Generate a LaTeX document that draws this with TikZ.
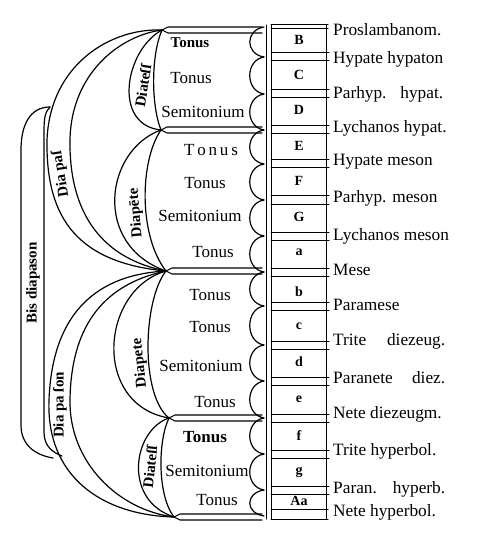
\documentclass[tikz,border=0pt]{standalone}
\usepackage{fontspec}
\setmainfont{Liberation Serif}
\usetikzlibrary{calc}
\tikzset{
  stepname/.style={font=\fontsize{17}{17}\selectfont, inner sep=0pt},
  pitchname/.style={font=\fontsize{17.3}{17.3}\selectfont, anchor=west, inner sep=0pt},
  keyletter/.style={font=\bfseries\fontsize{14}{14}\selectfont, inner sep=0pt},
  spanname/.style={font=\bfseries\fontsize{15}{15}\selectfont, inner sep=0pt},
  lens/.style={line width=1.2pt},
  barline/.style={line width=1.1pt},
  colline/.style={line width=1pt}
}
\begin{document}
\begin{tikzpicture}[x=1pt, y=-1pt, line join=round, line cap=round]
  \useasboundingbox (0,0) rectangle (477,537);

  % points where the spans meet
  \coordinate (c0) at (162,30);
  \coordinate (c1) at (161,130);
  \coordinate (c2) at (166,271);
  \coordinate (c3) at (169,418);
  \coordinate (c4) at (174,517);

  % double bars at the tetrachord limits
  \foreach \c/\y in {c0/30, c1/130, c2/271, c3/418, c4/517}
    \draw[barline] (262,\y-3) -- ($(\c)+(6,-3)$) -- (\c) -- ($(\c)+(6,3)$) -- (262,\y+3);

  % scallops, one for each step
  \foreach \a/\b in {27/57, 57/94, 94/130, 130/164, 164/200, 200/236, 236/272,
                     272/306, 306/345, 345/381, 381/418, 418/454, 454/490, 490/516}
    \draw[lens] (264,\a) .. controls (245,\a+3) and (245,\b-3) .. (264,\b);

  % key column
  \draw[colline] (266,25) -- (266,519);
  \draw[colline] (271,25) -- (271,519);
  \draw[colline] (326,25) -- (326,519);
  \draw[colline] (271,25) -- (328,25);
  \draw[colline] (271,29) -- (328,29);
  \foreach \y in {57,94,130,164,200,236,272,306,345,381,418,454,490} {
    \draw[colline] (271,\y-4) -- (329,\y-4);
    \draw[colline] (271,\y+4) -- (329,\y+4);
  }
  \draw[colline] (271,509) -- (328,509);
  \draw[colline] (271,519) -- (328,519);

  % diatessaron and diapente
  \draw[lens] (c0) .. controls (125,50) and (112,125) .. (c1);
  \draw[lens] (c0) .. controls (151,55) and (151,105) .. (c1);
  \draw[lens] (c1) .. controls (105,150) and (92,245) .. (c2);
  \draw[lens] (c1) .. controls (140,160) and (138,235) .. (c2);
  \draw[lens] (c2) .. controls (100,290) and (92,405) .. (c3);
  \draw[lens] (c2) .. controls (143,300) and (140,395) .. (c3);
  \draw[lens] (c3) .. controls (133,430) and (122,500) .. (c4);
  \draw[lens] (c3) .. controls (158,440) and (157,495) .. (c4);

  % diapason
  \draw[lens] (c0) .. controls (110,28) and (50,65) .. (47,140)
    .. controls (46,210) and (70,262) .. (c2);
  \draw[lens] (c0) .. controls (118,36) and (71,75) .. (70,140)
    .. controls (69,205) and (95,257) .. (c2);
  \draw[lens] (c2) .. controls (90,275) and (52,320) .. (49,400)
    .. controls (46,475) and (100,515) .. (c4);
  \draw[lens] (c2) .. controls (100,285) and (71,330) .. (70,400)
    .. controls (69,462) and (118,510) .. (c4);

  % bis diapason
  \draw[lens] (50,107) .. controls (30,107) and (21,125) .. (21,150) -- (21,425)
    .. controls (21,445) and (35,455) .. (53,458);
  \draw[lens] (50,107) .. controls (45,112) and (44,118) .. (44,132) -- (44,432)
    .. controls (44,446) and (52,452) .. (62,456);

  % span names
  \node[spanname, rotate=81] (diatessTop) at (143,86) {Diateſſ};
  \node[spanname, rotate=95] (diapenteTop) at (136,213) {Diapēte};
  \node[spanname, rotate=96] (diapenteLow) at (140,363) {Diapete};
  \node[spanname, rotate=84] (diatessLow) at (150,467) {Diateſſ};
  \node[spanname, rotate=99] (diapasonTop) at (61,174) {Dia paſ};
  \node[spanname, rotate=90] (diapasonLow) at (60,405) {Dia pa ſon};
  \node[spanname, rotate=90] (bisdiapason) at (33,283) {Bis diapason};

  % steps
  \node[stepname, font=\bfseries\fontsize{15}{15}\selectfont] (s1) at (190,43) {Tonus};
  \node[stepname] (s2) at (191,78) {Tonus};
  \node[stepname] (s3) at (203,112) {Semitonium};
  \node[stepname] (s4) at (211,150) {T\,o\,n\,u\,s};
  \node[stepname] (s5) at (205,183) {Tonus};
  \node[stepname] (s6) at (200,216) {Semitonium};
  \node[stepname] (s7) at (213,252) {Tonus};
  \node[stepname] (s8) at (210,295) {Tonus};
  \node[stepname] (s9) at (210,327) {Tonus};
  \node[stepname] (s10) at (201,366) {Semitonium};
  \node[stepname] (s11) at (215,402) {Tonus};
  \node[stepname, font=\bfseries\fontsize{17}{17}\selectfont] (s12) at (205,437) {Tonus};
  \node[stepname] (s13) at (207,471) {Semitonium};
  \node[stepname] (s14) at (217,500) {Tonus};

  % key letters
  \node[keyletter] (kB) at (299,40) {B};
  \node[keyletter] (kC) at (299,75) {C};
  \node[keyletter] (kD) at (299,110) {D};
  \node[keyletter] (kE) at (299,146) {E};
  \node[keyletter] (kF) at (299,181) {F};
  \node[keyletter] (kG) at (299,217) {G};
  \node[keyletter] (ka) at (299,252) {a};
  \node[keyletter] (kb) at (299,292) {b};
  \node[keyletter] (kc) at (299,326) {c};
  \node[keyletter] (kd) at (299,362) {d};
  \node[keyletter] (ke) at (299,399) {e};
  \node[keyletter] (kf) at (299,436) {f};
  \node[keyletter] (kg) at (299,472) {g};
  \node[keyletter] (kaa) at (299,501) {Aa};

  % pitch names
  \node[pitchname] (p0) at (333,30) {Proslambanom.};
  \node[pitchname] (p1) at (333,59) {Hypate hypaton};
  \node[pitchname] (p2) at (333,94) {\makebox[110pt][s]{Parhyp. hypat.}};
  \node[pitchname] (p3) at (333,128) {Lychanos hypat.};
  \node[pitchname] (p4) at (333,162) {Hypate meson};
  \node[pitchname] (p5) at (333,198) {Parhyp. meson};
  \node[pitchname] (p6) at (333,236) {Lychanos meson};
  \node[pitchname] (p7) at (333,270) {Mese};
  \node[pitchname] (p8) at (333,305) {Paramese};
  \node[pitchname] (p9) at (333,341) {\makebox[112pt][s]{Trite diezeug.}};
  \node[pitchname] (p10) at (333,378) {\makebox[112pt][s]{Paranete diez.}};
  \node[pitchname] (p11) at (333,414) {Nete diezeugm.};
  \node[pitchname] (p12) at (333,451) {Trite hyperbol.};
  \node[pitchname] (p13) at (333,489) {\makebox[112pt][s]{Paran. hyperb.}};
  \node[pitchname] (p14) at (333,512) {Nete hyperbol.};
\end{tikzpicture}
\end{document}
